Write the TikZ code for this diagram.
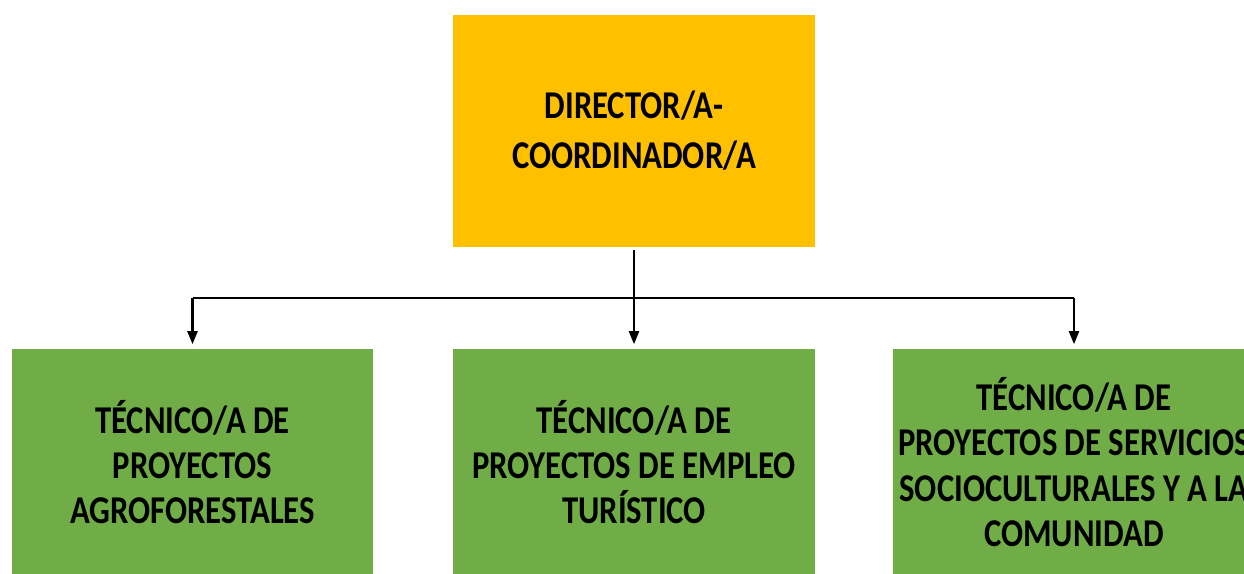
\documentclass[tikz,border=0pt]{standalone}
\usepackage{fontspec}
\setmainfont{Carlito}[FakeStretch=0.83]
\usetikzlibrary{arrows.meta}
\definecolor{jefe}{HTML}{FFC000}
\definecolor{tecnico}{HTML}{70AD47}

\begin{document}
\begin{tikzpicture}[x=0.01cm, y=-0.01cm,
    cargo/.style={inner sep=0pt, align=center, font=\bfseries\fontsize{11.2}{12.9}\selectfont},
    flecha/.style={-{Triangle[width=1mm, length=1.3mm]}, line width=0.6pt}]
    \useasboundingbox (0,0) rectangle (1244,574);

    % Director
    \node[cargo, fill=jefe, minimum width=3.62cm, minimum height=2.32cm,
      font=\bfseries\fontsize{11.2}{14.2}\selectfont] (dir) at (634,131) {DIRECTOR/A-\\COORDINADOR/A};

    % Tecnicos
    \node[cargo, fill=tecnico, minimum width=3.61cm, minimum height=2.26cm] (t1) at (192.5,462)
      {TÉCNICO/A DE\\PROYECTOS\\AGROFORESTALES};
    \node[cargo, fill=tecnico, minimum width=3.62cm, minimum height=2.26cm] (t2) at (634,462)
      {TÉCNICO/A DE\\PROYECTOS DE EMPLEO\\TURÍSTICO};
    \node[cargo, fill=tecnico, minimum width=3.62cm, minimum height=2.26cm] (t3) at (1074,462)
      {TÉCNICO/A DE\\PROYECTOS DE SERVICIOS\\SOCIOCULTURALES Y A LA\\COMUNIDAD};

    \coordinate (bus) at (634,298);
    \draw[line width=0.6pt] ([yshift=-0.02cm]dir.south) -- (bus);
    \draw[line width=0.6pt] (t1.north |- bus) -- (t3.north |- bus);
    \foreach \i in {1,2,3}
      \draw[flecha] (t\i.north |- bus) -- ([yshift=0.04cm]t\i.north);
\end{tikzpicture}
\end{document}
